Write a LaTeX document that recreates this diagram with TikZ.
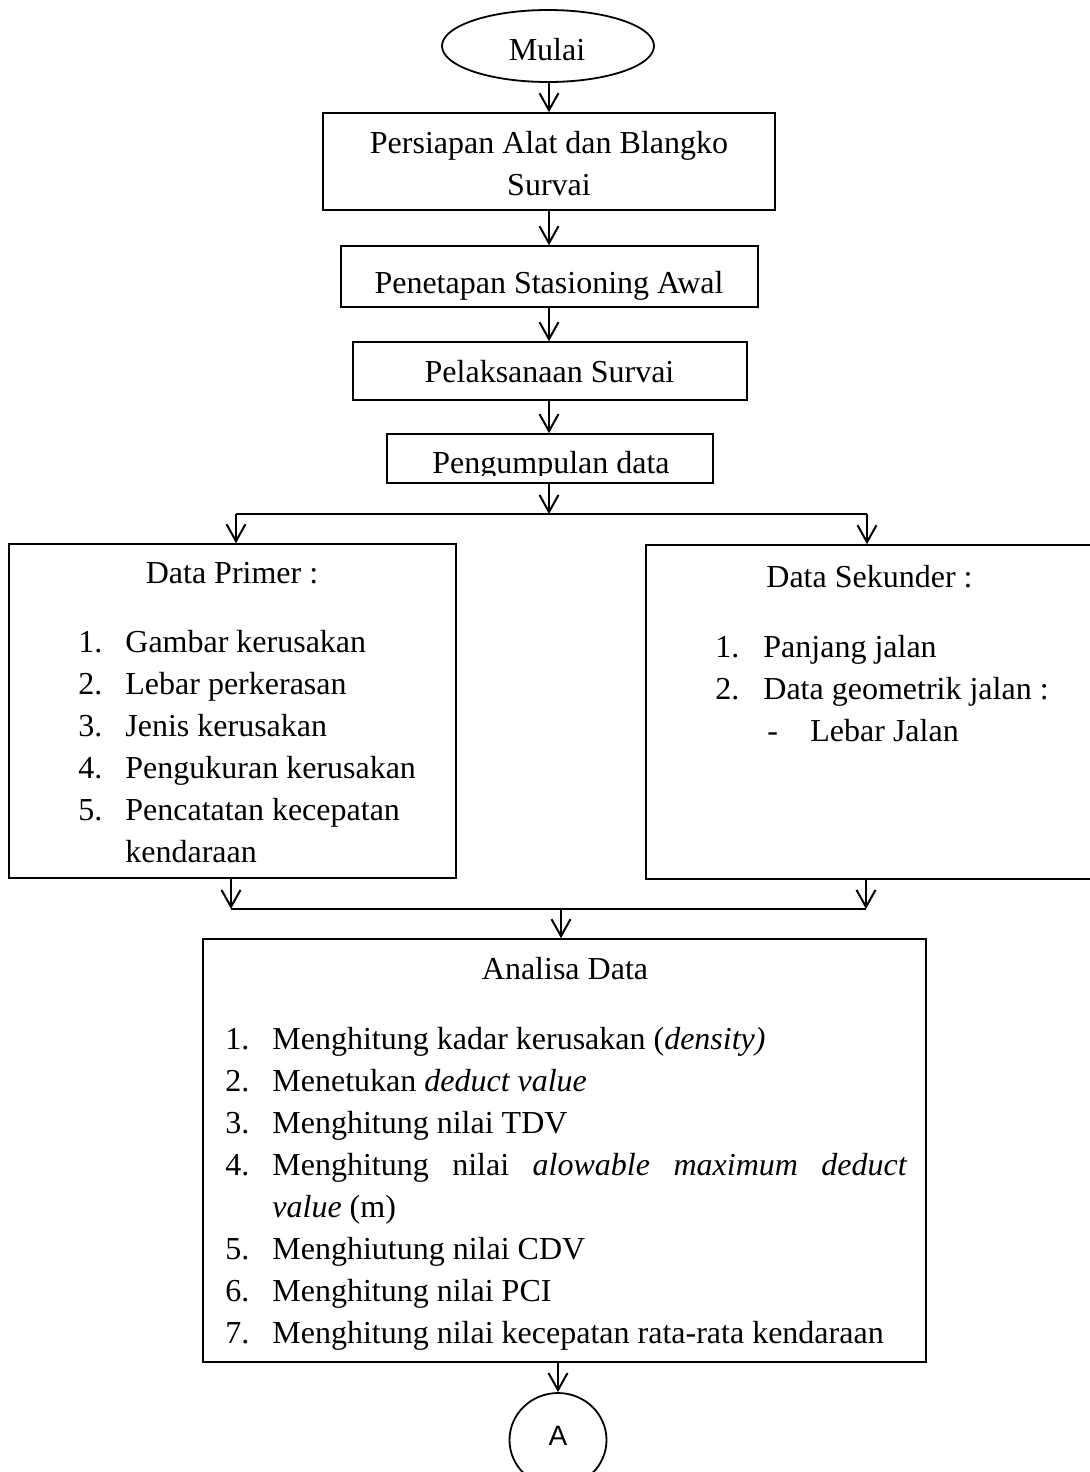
\documentclass[tikz,border=0pt]{standalone}
\usepackage{fontspec}
\setmainfont{Liberation Serif}
\newfontfamily\sansA{Liberation Sans}
\usetikzlibrary{arrows.meta,shapes.geometric}
\begin{document}
\begin{tikzpicture}[x=0.5pt,y=-0.5pt,
  box/.style={draw, line width=0.8pt, rectangle, inner sep=0pt},
  oval/.style={draw, line width=0.9pt, ellipse, inner sep=0pt},
  arr/.style={line width=1pt, -{Straight Barb[length=8.5pt,width=9.5pt]}},
  ln/.style={line width=1pt},
  txt/.style={inner sep=0pt, anchor=base, font=\fontsize{16}{21}\selectfont},
  txtl/.style={txt, anchor=base west}]
\useasboundingbox (0,0) rectangle (1089,1472);

% boxes
\node[oval, minimum width=106pt, minimum height=36pt] (mulai) at (548,46) {};
\node[box, minimum width=226pt, minimum height=48.5pt] (persiapan) at (549,161.5) {};
\node[box, minimum width=208.5pt, minimum height=30.5pt] (penetapan) at (549.5,276.5) {};
\node[box, minimum width=197pt, minimum height=29pt] (pelaksanaan) at (550,371) {};
\node[box, minimum width=163pt, minimum height=24.5pt] (pengumpulan) at (550,458.5) {};
\node[box, minimum width=223.5pt, minimum height=167pt] (primer) at (232.5,711) {};
\node[box, minimum width=224.5pt, minimum height=167pt] (sekunder) at (870.5,712) {};
\node[box, minimum width=361.5pt, minimum height=211.5pt] (analisa) at (564.5,1150.5) {};
\node[oval, minimum width=48.5pt, minimum height=47pt] (A) at (558,1440) {};

% texts
\node[txt] (tmulai) at (547,61) {Mulai};
\node[txt] (tpers1) at (549,153) {Persiapan Alat dan Blangko};
\node[txt] (tpers2) at (549,195) {Survai};
\node[txt] (tpenet) at (549,293) {Penetapan Stasioning Awal};
\node[txt] (tpelak) at (549.5,382) {Pelaksanaan Survai};
\begin{scope}
  \clip (pengumpulan.north west) rectangle (pengumpulan.east |- 0,475);
  \node[txt] (tpeng) at (551,473) {Pengumpulan data};
\end{scope}

% Data primer
\node[txt] (tprim) at (232,583) {Data Primer :};
\foreach \n/\t/\y in {1/Gambar kerusakan/652, 2/Lebar perkerasan/694, 3/Jenis kerusakan/736, 4/Pengukuran kerusakan/778, 5/Pencatatan kecepatan/820}{
  \node[txtl] (pn\n) at (78,\y) {\n.};
  \node[txtl] (pt\n) at (125,\y) {\t};
}
\node[txtl] (pt6) at (125,862) {kendaraan};

% Data sekunder
\node[txt] (tsek) at (869.5,587) {Data Sekunder :};
\node[txtl] (sn1) at (715,657) {1.};
\node[txtl] (st1) at (763,657) {Panjang jalan};
\node[txtl] (sn2) at (715,699) {2.};
\node[txtl] (st2) at (763,699) {Data geometrik jalan :};
\node[txtl] (sd3) at (767,741) {-};
\node[txtl] (st3) at (810,741) {Lebar Jalan};

% Analisa
\node[txt] (tana) at (565,979) {Analisa Data};
\node[txtl] (an1) at (225,1049) {1.};
\node[txtl] (at1) at (272,1049) {Menghitung kadar kerusakan (\textit{density)}};
\node[txtl] (an2) at (225,1091) {2.};
\node[txtl] (at2) at (272,1091) {Menetukan \textit{deduct value}};
\node[txtl] (an3) at (225,1133) {3.};
\node[txtl] (at3) at (272,1133) {Menghitung nilai TDV};
\node[txtl] (an4) at (225,1175) {4.};
\node[txtl] (at4) at (272,1175) {\hbox to 317.5pt{Menghitung\hfill nilai\hfill \textit{alowable}\hfill \textit{maximum}\hfill \textit{deduct}}};
\node[txtl] (at4b) at (272,1217) {\textit{value} (m)};
\node[txtl] (an5) at (225,1259) {5.};
\node[txtl] (at5) at (272,1259) {Menghiutung nilai CDV};
\node[txtl] (an6) at (225,1301) {6.};
\node[txtl] (at6) at (272,1301) {Menghitung nilai PCI};
\node[txtl] (an7) at (225,1343) {7.};
\node[txtl] (at7) at (272,1343) {Menghitung nilai kecepatan rata-rata kendaraan};

\node[inner sep=0pt, anchor=base, font=\sansA\fontsize{14}{16}\selectfont] (tA) at (558,1445) {A};

% coordinates
\coordinate (sM) at (549,514);
\coordinate (sL) at (236,514);
\coordinate (sR) at (867,514);
\coordinate (mL) at (231,909);
\coordinate (mR) at (866,909);
\coordinate (mM) at (561,909);

% connectors
\draw[arr] (mulai.south -| persiapan.north) -- (persiapan.north);
\draw[arr] (persiapan.south) -- (persiapan.south |- penetapan.north);
\draw[arr] (penetapan.south -| persiapan.south) -- (persiapan.south |- pelaksanaan.north);
\draw[arr] (pelaksanaan.south -| persiapan.south) -- (persiapan.south |- pengumpulan.north);
\draw[arr] (pengumpulan.south -| sM) -- (sM);
\draw[ln] (sL) -- (sR);
\draw[arr] (sL) -- (sL |- primer.north);
\draw[arr] (sR) -- (sR |- sekunder.north);
\draw[arr] (mL |- primer.south) -- (mL);
\draw[arr] (mR |- sekunder.south) -- (mR);
\draw[ln] (mL) -- (mR);
\draw[arr] (mM) -- (mM |- analisa.north);
\draw[arr] (analisa.south -| A.north) -- (A.north);
\end{tikzpicture}
\end{document}
